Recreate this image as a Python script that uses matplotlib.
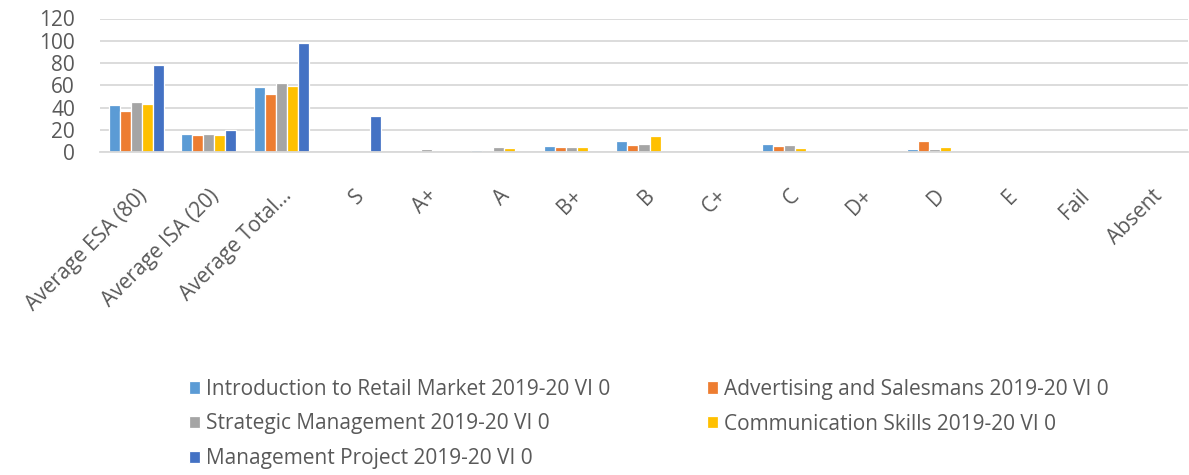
import matplotlib.pyplot as plt
import numpy as np

plt.rcParams.update({
    "font.family": ["Open Sans", "DejaVu Sans"],
    "font.size": 14,
})

###############################################################################

BLUE = "#5B9BD5"
ORANGE = "#ED7D31"
GREY = "#A5A5A5"
YELLOW = "#FFC000"
NAVY = "#4472C4"
TEXT = "#595959"
GRID = "#D9D9D9"

###############################################################################

categories = ["Average ESA (80)", "Average ISA (20)", "Average Total...", "S",
              "A+", "A", "B+", "B", "C+", "C", "D+", "D", "E", "Fail",
              "Absent"]

series_names = [
    "Introduction to Retail Market 2019-20 VI 0",
    "Advertising and Salesmans 2019-20 VI 0",
    "Strategic Management 2019-20 VI 0",
    "Communication Skills 2019-20 VI 0",
    "Management Project 2019-20 VI 0",
]

retail = [42, 16, 58, 0, 0, 2, 5.5, 10, 0, 7.5, 0, 3, 0, 0, 0]
advertising = [37, 15, 52, 0, 0, 0, 4.5, 6, 0, 5.5, 0, 10, 0, 0, 0]
strategic = [45, 16, 62, 0, 2.5, 4.5, 4.5, 7.5, 0, 6, 0, 3, 0, 0, 0]
communication = [43, 15.5, 59, 0, 0, 3.5, 4.5, 14, 0, 3.5, 0, 4.5, 0, 0, 0]
project = [78, 20, 98, 32, 0, 0, 0, 0, 0, 0, 0, 0, 0, 0, 0]

series = [retail, advertising, strategic, communication, project]
colors = [BLUE, ORANGE, GREY, YELLOW, NAVY]

###############################################################################

fig = plt.figure(figsize=(11.89, 4.75), dpi=100)
ax = fig.add_axes([100/1189, 1-152/475, 1088/1189, 133.5/475])

x = np.arange(len(categories))
step = 0.152
bars = []
for j, (vals, c) in enumerate(zip(series, colors)):
    b = ax.bar(x+(j-2)*step, vals, width=step, color=c,
               edgecolor="white", linewidth=0.9, zorder=2)
    bars.append(b)

ax.set_xlim(-0.5, len(categories)-0.5)
ax.set_ylim(0, 120)
ax.set_yticks(np.arange(0, 121, 20))
ax.yaxis.grid(True, color=GRID, linewidth=1.3)
ax.set_axisbelow(True)

for s in ["left", "right", "top"]:
    ax.spines[s].set_visible(False)
ax.spines["bottom"].set_color(GRID)
ax.spines["bottom"].set_linewidth(1.3)

ax.set_xticks(x, categories, rotation=45, ha="right",
              rotation_mode="anchor")
ax.tick_params(axis="x", length=0, pad=24, colors=TEXT, labelsize=15)
ax.tick_params(axis="y", length=0, pad=18, colors=TEXT, labelsize=15)

order = [0, 2, 4, 1, 3]
leg = fig.legend([bars[i] for i in order], [series_names[i] for i in order],
                 ncol=2, loc="upper left", bbox_to_anchor=(170/1189, 1-360/475),
                 frameon=False, fontsize=15, handlelength=0.55,
                 handleheight=0.55, handletextpad=0.3, labelspacing=0.66,
                 columnspacing=4.6, labelcolor=TEXT)

fig.savefig("out.png", dpi=100)
